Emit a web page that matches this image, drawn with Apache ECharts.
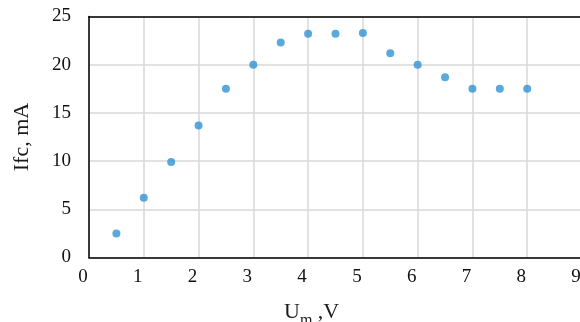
<!DOCTYPE html>
<html>
<head>
<meta charset="utf-8">
<script src="https://cdn.jsdelivr.net/npm/echarts@6/dist/echarts.min.js"></script>
<style>html,body{margin:0;padding:0;background:#fff}#c{width:580px;height:322px}</style>
</head>
<body>
<div id="c"></div>
<script>
const xValues = [0.5, 1, 1.5, 2, 2.5, 3, 3.5, 4, 4.5, 5, 5.5, 6, 6.5, 7, 7.5, 8];
const yValues = [2.5, 6.2, 9.9, 13.7, 17.5, 20.0, 22.3, 23.2, 23.2, 23.3, 21.2, 20.0, 18.7, 17.5, 17.5, 17.5];
const xTicks = [0, 1, 2, 3, 4, 5, 6, 7, 8, 9];
const yTicks = [0, 5, 10, 15, 20, 25];
const yTitle = 'Ifc, mA';
const xTitleMain = 'U';
const xTitleSub = 'm';
const xTitleTail = ' ,V';

const points = xValues.map((x, i) => [x, yValues[i]]);
const font = '"Liberation Serif", "Times New Roman", serif';
const xMin = xTicks[0], xMax = xTicks[xTicks.length - 1];
const chart = echarts.init(document.getElementById('c'));
chart.setOption({
  animation: false,
  title: {
    left: 279, top: 296,
    text: '{a|' + xTitleMain + '}{b|' + xTitleSub + '}{a|' + xTitleTail + '}',
    textStyle: {
      fontWeight: 'normal',
      rich: {
        a: { fontFamily: font, fontSize: 22, fontWeight: 'normal', color: '#1a1a1a', lineHeight: 24, verticalAlign: 'top' },
        b: { fontFamily: font, fontSize: 16, fontWeight: 'normal', color: '#1a1a1a', lineHeight: 24, verticalAlign: 'top', padding: [12, 0, 0, 0] }
      }
    }
  },
  grid: { left: 89, top: 16.5, width: 493, height: 241, outerBoundsMode: 'none', containLabel: false },
  xAxis: [{
    type: 'value', min: xMin, max: xMax, interval: 1,
    axisLine: { show: true, lineStyle: { color: '#000', width: 1.5 } },
    axisTick: { show: false },
    axisLabel: { color: '#111', fontFamily: font, fontSize: 19, margin: 10, padding: [0, 12, 0, 0] },
    splitLine: { show: true, lineStyle: { color: '#d9d9d9', width: 1.5 } }
  }, {
    type: 'value', position: 'top', min: xMin, max: xMax, interval: 1,
    axisLine: { show: true, onZero: false, lineStyle: { color: '#000', width: 1.5 } },
    axisTick: { show: false }, axisLabel: { show: false }, splitLine: { show: false }
  }],
  yAxis: {
    type: 'value', min: yTicks[0], max: yTicks[yTicks.length - 1], interval: 5,
    name: yTitle, nameLocation: 'middle', nameGap: 56,
    nameTextStyle: { fontFamily: font, fontSize: 22, color: '#1a1a1a' },
    axisLine: { show: true, lineStyle: { color: '#000', width: 1.5 } },
    axisTick: { show: false },
    axisLabel: { color: '#111', fontFamily: font, fontSize: 19, margin: 18 },
    splitLine: { show: true, lineStyle: { color: '#d9d9d9', width: 1.5 } }
  },
  series: [{
    type: 'scatter', data: points, symbol: 'circle', symbolSize: 8,
    itemStyle: { color: '#3193d3' }
  }]
});
</script>
</body>
</html>
